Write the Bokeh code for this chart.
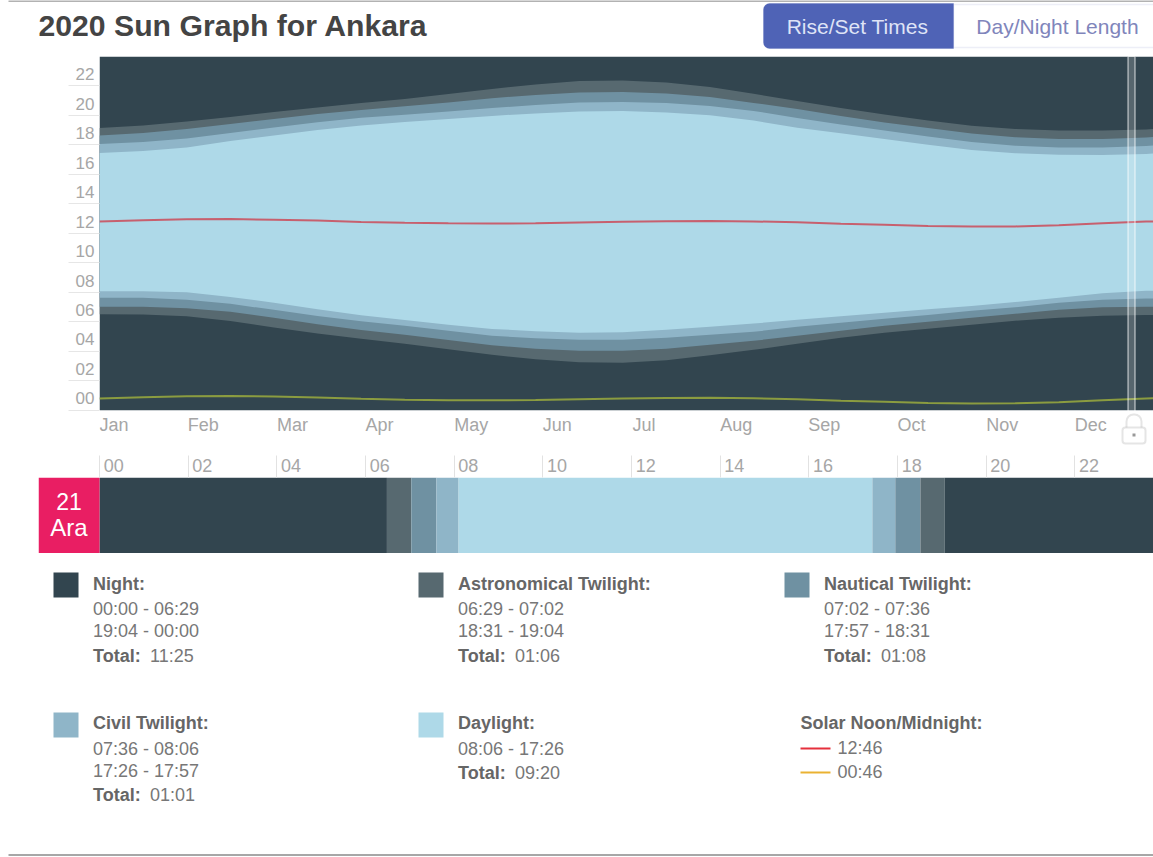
from bokeh.plotting import figure
from bokeh.layouts import column
from bokeh.models import Range1d, FixedTicker, LinearAxis, BoxAnnotation
from bokeh.core.properties import value
from bokeh.embed import file_html
from bokeh.resources import INLINE

FONT = "Liberation Sans"
TITLE = "2020 Sun Graph for Ankara"
BUTTONS = ["Rise/Set Times", "Day/Night Length"]
MONTHS = ["Jan", "Feb", "Mar", "Apr", "May", "Jun", "Jul", "Aug", "Sep", "Oct", "Nov", "Dec"]
MONTH_STARTS = [0, 30.5, 61, 91.5, 122, 152.5, 183, 213.5, 244, 274.5, 305, 335.5]
HOUR_TICKS = [0, 2, 4, 6, 8, 10, 12, 14, 16, 18, 20, 22]
SELECTED_DAY = 355

days = [0, 15, 30, 45, 60, 75, 90, 105, 120, 135, 150, 165, 180, 195, 210, 225, 240, 255, 270, 285, 300, 315, 330, 345, 360, 366]
astro_dawn = [6.51, 6.50, 6.38, 6.05, 5.62, 5.20, 4.85, 4.51, 4.14, 3.76, 3.46, 3.25, 3.22, 3.39, 3.73, 4.10, 4.51, 4.92, 5.25, 5.53, 5.80, 6.07, 6.27, 6.41, 6.47, 6.47]
naut_dawn = [7.02, 7.02, 6.92, 6.68, 6.27, 5.84, 5.45, 5.12, 4.77, 4.41, 4.17, 4.03, 4.03, 4.17, 4.44, 4.71, 5.05, 5.39, 5.73, 6.00, 6.27, 6.54, 6.81, 6.98, 7.02, 7.02]
civil_dawn = [7.63, 7.63, 7.49, 7.22, 6.81, 6.40, 6.03, 5.73, 5.39, 5.05, 4.88, 4.78, 4.78, 4.92, 5.12, 5.32, 5.66, 5.93, 6.20, 6.47, 6.75, 6.98, 7.29, 7.49, 7.59, 7.59]
sunrise = [8.07, 8.07, 8.00, 7.69, 7.29, 6.86, 6.45, 6.12, 5.80, 5.52, 5.36, 5.25, 5.29, 5.46, 5.66, 5.88, 6.14, 6.37, 6.61, 6.85, 7.08, 7.34, 7.63, 7.93, 8.10, 8.10]
sunset = [17.46, 17.59, 17.83, 18.27, 18.64, 19.02, 19.32, 19.56, 19.76, 19.97, 20.14, 20.27, 20.31, 20.20, 20.02, 19.65, 19.17, 18.80, 18.40, 18.02, 17.66, 17.44, 17.34, 17.32, 17.39, 17.46]
civil_dusk = [18.07, 18.20, 18.44, 18.81, 19.19, 19.54, 19.85, 20.05, 20.27, 20.50, 20.71, 20.88, 20.92, 20.85, 20.64, 20.31, 19.83, 19.39, 18.98, 18.58, 18.20, 17.95, 17.83, 17.83, 17.93, 18.00]
naut_dusk = [18.64, 18.81, 19.08, 19.42, 19.76, 20.10, 20.37, 20.62, 20.88, 21.17, 21.39, 21.56, 21.59, 21.49, 21.25, 20.85, 20.44, 19.97, 19.53, 19.15, 18.78, 18.53, 18.41, 18.41, 18.51, 18.58]
astro_dusk = [19.15, 19.32, 19.59, 19.90, 20.24, 20.54, 20.85, 21.12, 21.46, 21.80, 22.10, 22.34, 22.37, 22.24, 21.93, 21.47, 20.98, 20.51, 20.07, 19.65, 19.30, 19.08, 18.98, 18.98, 19.05, 19.12]
solar_noon = [12.80, 12.89, 12.95, 12.97, 12.93, 12.87, 12.78, 12.72, 12.68, 12.67, 12.69, 12.74, 12.79, 12.83, 12.84, 12.81, 12.75, 12.65, 12.58, 12.50, 12.46, 12.47, 12.55, 12.68, 12.80, 12.82]
solar_midnight = [0.80, 0.89, 0.95, 0.97, 0.93, 0.87, 0.78, 0.72, 0.68, 0.67, 0.69, 0.74, 0.79, 0.83, 0.84, 0.81, 0.75, 0.65, 0.58, 0.50, 0.46, 0.47, 0.55, 0.68, 0.80, 0.82]

bar_edges = ["00:00", "06:29", "07:02", "07:36", "08:06", "17:26", "17:57", "18:31", "19:04", "24:00"]

C_NIGHT, C_ASTRO, C_NAUT, C_CIVIL, C_DAY = "#32454f", "#576970", "#6f91a2", "#8fb5c8", "#aed9e8"
bar_colors = [C_NIGHT, C_ASTRO, C_NAUT, C_CIVIL, C_DAY, C_CIVIL, C_NAUT, C_ASTRO, C_NIGHT]

legend_titles = ["Night:", "Astronomical Twilight:", "Nautical Twilight:", "Civil Twilight:", "Daylight:"]
legend_colors = [C_NIGHT, C_ASTRO, C_NAUT, C_CIVIL, C_DAY]
legend_times = [["00:00 - 06:29", "19:04 - 00:00"], ["06:29 - 07:02", "18:31 - 19:04"], ["07:02 - 07:36", "17:57 - 18:31"],
                ["07:36 - 08:06", "17:26 - 17:57"], ["08:06 - 17:26"]]
legend_totals = ["11:25", "01:06", "01:08", "01:01", "09:20"]
solar_title = "Solar Noon/Midnight:"
solar_times = ["12:46", "00:46"]


def hours(s):
    h, m = s.split(":")
    return int(h) + int(m) / 60


def canvas(h, y0, y1):
    f = figure(width=1153, height=h, x_range=Range1d(0, 1153), y_range=Range1d(y1, y0), x_axis_location=None,
               y_axis_location=None, toolbar_location=None, output_backend="svg", min_border=0, outline_line_color=None,
               frame_align=False)
    f.xgrid.visible = False
    f.ygrid.visible = False
    return f


def put(f, x, y, s, size=18, color="#777777", bold=False, align="left"):
    f.text([x], [y], text=[s], text_font=value(FONT), text_font_size=f"{size}px", text_color=color,
           text_font_style="bold" if bold else "normal", text_baseline="middle", text_align=align)


# ---------- header ----------
head = canvas(56, 0, 56)
head.segment([8], [0.5], [1153], [0.5], line_color="#999999", line_width=1.5)
put(head, 38, 25, TITLE, size=30.2, color="#444444", bold=True)
head.add_layout(BoxAnnotation(left=953, right=1170, top=4, bottom=47, fill_color="#ffffff", fill_alpha=1, line_color="#c4c6e4",
                              line_width=1.5, level="underlay"))
head.add_layout(BoxAnnotation(left=763, right=953, top=3, bottom=48, fill_color="#4f63b6", fill_alpha=1, line_color="#4f63b6",
                              border_radius=(6, 0, 0, 6), level="underlay"))
put(head, 857, 25.5, BUTTONS[0], size=21, color="#dfe4f6", align="center")
put(head, 1057, 25.5, BUTTONS[1], size=21, color="#8085bb", align="center")

# ---------- main chart ----------
PX_PER_DAY = 1064 / 366
main = figure(width=1153, height=399, x_range=Range1d(0, 1054 / PX_PER_DAY), y_range=Range1d(-3.07, 24),
              toolbar_location=None, output_backend="svg", min_border_left=99, min_border_right=0, min_border_top=0,
              min_border_bottom=0, outline_line_color=None, x_axis_location=None, y_axis_location="left",
              frame_width=1054, frame_height=399, frame_align=False)
main.xgrid.visible = False
main.ygrid.visible = False
floor = [0 for _ in days]
ceil = [24 for _ in days]
main.varea(days, floor, ceil, fill_color=C_NIGHT)
main.varea(days, astro_dawn, astro_dusk, fill_color=C_ASTRO)
main.varea(days, naut_dawn, naut_dusk, fill_color=C_NAUT)
main.varea(days, civil_dawn, civil_dusk, fill_color=C_CIVIL)
main.varea(days, sunrise, sunset, fill_color=C_DAY)
main.line(days, solar_noon, line_color="#c7606e", line_width=2)
main.line(days, solar_midnight, line_color="#8b9c40", line_width=2)

ya = main.yaxis[0]
ya.ticker = FixedTicker(ticks=[h + 0.8 for h in HOUR_TICKS], minor_ticks=HOUR_TICKS)
ya.major_label_overrides = {h + 0.8: f"{h:02d}" for h in HOUR_TICKS}
ya.major_tick_line_color = None
ya.major_tick_out = 0
ya.major_tick_in = 0
ya.minor_tick_out = 31
ya.minor_tick_in = 0
ya.minor_tick_line_color = "#e6e6e6"
ya.axis_line_color = None
ya.major_label_standoff = -26
ya.major_label_text_font = FONT
ya.major_label_text_font_size = "17px"
ya.major_label_text_color = "#a6a6a6"

# half of each month label's width, so that the centred labels start at their month
label_half_days = [5.0, 5.2, 5.4, 4.8, 5.9, 5.0, 4.3, 5.5, 5.3, 4.8, 5.5, 5.5]
month_label_at = [m + s for m, s in zip(MONTH_STARTS, label_half_days)]
xa = LinearAxis(ticker=FixedTicker(ticks=month_label_at))
xa.major_label_overrides = dict(zip(month_label_at, MONTHS))
xa.fixed_location = 0
xa.major_tick_line_color = None
xa.major_tick_out = 0
xa.major_tick_in = 0
xa.minor_tick_line_color = None
xa.axis_line_color = None
xa.major_label_standoff = 5
xa.major_label_orientation = "horizontal"
xa.major_label_text_font = FONT
xa.major_label_text_font_size = "18px"
xa.major_label_text_color = "#a6a6a6"
main.add_layout(xa, "below")

main.add_layout(BoxAnnotation(left=SELECTED_DAY - 1.2, right=SELECTED_DAY + 1.2, top=24, bottom=-0.58, fill_color="#ffffff",
                              fill_alpha=0.18, line_color="#ffffff", line_alpha=0.8, line_width=1))
main.extra_x_ranges["px"] = Range1d(99, 1153)
main.extra_y_ranges["py"] = Range1d(455, 56)
main.add_layout(BoxAnnotation(left=1126, right=1141, top=414, bottom=432, border_radius=(7, 7, 0, 0), x_range_name="px",
                              y_range_name="py", fill_color=None, fill_alpha=0, line_color="#aaaaaa", line_width=2))
main.add_layout(BoxAnnotation(left=1122, right=1145, top=427, bottom=443, border_radius=3, x_range_name="px", y_range_name="py",
                              fill_color="#ffffff", fill_alpha=1, line_color="#aaaaaa", line_width=2))
main.add_layout(BoxAnnotation(left=1132, right=1135, top=433, bottom=436, x_range_name="px", y_range_name="py",
                              fill_color="#999999", fill_alpha=1, line_color=None))

# ---------- selected-day strip ----------
PX_PER_HOUR = 1064 / 24
strip = figure(width=1153, height=99, x_range=Range1d(-61 / PX_PER_HOUR, 1054 / PX_PER_HOUR), y_range=Range1d(0, 1),
               toolbar_location=None, output_backend="svg", min_border_left=38, min_border_right=0, min_border_top=22,
               min_border_bottom=0, outline_line_color=None, x_axis_location=None, y_axis_location=None, frame_align=False,
               frame_height=76)
strip.xgrid.visible = False
strip.ygrid.visible = False
edges = [hours(s) for s in bar_edges]
strip.quad(left=edges[:-1], right=edges[1:], bottom=0, top=1, fill_color=bar_colors, line_color=None)
strip.quad(left=[-61 / PX_PER_HOUR], right=[0], bottom=0, top=1, fill_color="#e91e63", line_color=None)
strip.text([-30.5 / PX_PER_HOUR], [0.68], text=["21"], text_font=value(FONT), text_font_size="23px", text_color="#ffffff",
           text_align="center", text_baseline="middle")
strip.text([-30.5 / PX_PER_HOUR], [0.34], text=["Ara"], text_font=value(FONT), text_font_size="24px", text_color="#ffffff",
           text_align="center", text_baseline="middle")
HOUR_LABEL_SHIFT = 0.32
ha = LinearAxis(ticker=FixedTicker(ticks=[h + HOUR_LABEL_SHIFT for h in HOUR_TICKS], minor_ticks=HOUR_TICKS))
ha.major_label_overrides = {h + HOUR_LABEL_SHIFT: f"{h:02d}" for h in HOUR_TICKS}
ha.major_tick_line_color = None
ha.major_tick_out = 0
ha.major_tick_in = 0
ha.minor_tick_out = 22
ha.minor_tick_in = 0
ha.minor_tick_line_color = "#e2e2e2"
ha.axis_line_color = None
ha.major_label_standoff = -16
ha.major_label_orientation = "horizontal"
ha.major_label_text_font = FONT
ha.major_label_text_font_size = "18px"
ha.major_label_text_color = "#a6a6a6"
strip.add_layout(ha, "above")

# ---------- legend ----------
leg = canvas(303, 554, 857)
col_x = [53, 418, 784, 53, 418]
row_y = [573, 573, 573, 713, 713]
row_text_lift = [1, 1, 1, 2, 2]
for i, name in enumerate(legend_titles):
    x, y = col_x[i], row_y[i]
    leg.quad(left=[x], right=[x + 25], top=[y], bottom=[y + 25], fill_color=legend_colors[i], line_color=None)
    tx = x + 39.5
    put(leg, tx, y + 12 - row_text_lift[i], name, color="#666666", bold=True)
    ty = y + 36
    for t in legend_times[i]:
        put(leg, tx, ty, t)
        ty += 22
    put(leg, tx, ty + 3 - row_text_lift[i] + 1, "Total:", color="#666666", bold=True)
    put(leg, tx + 57, ty + 3 - row_text_lift[i] + 1, legend_totals[i])
put(leg, 800, 723.5, solar_title, color="#666666", bold=True)
leg.segment([800, 800], [749, 773], [830, 830], [749, 773], line_color=["#e5303c", "#eab232"], line_width=2)
put(leg, 837, 748.5, solar_times[0])
put(leg, 837, 772, solar_times[1])
leg.segment([8], [855.5], [1153], [855.5], line_color="#8a8a8a", line_width=1.5)

page = column(head, main, strip, leg, spacing=0, margin=(0, 0, 0, 0))
open("out.html", "w").write(file_html(page, INLINE))
